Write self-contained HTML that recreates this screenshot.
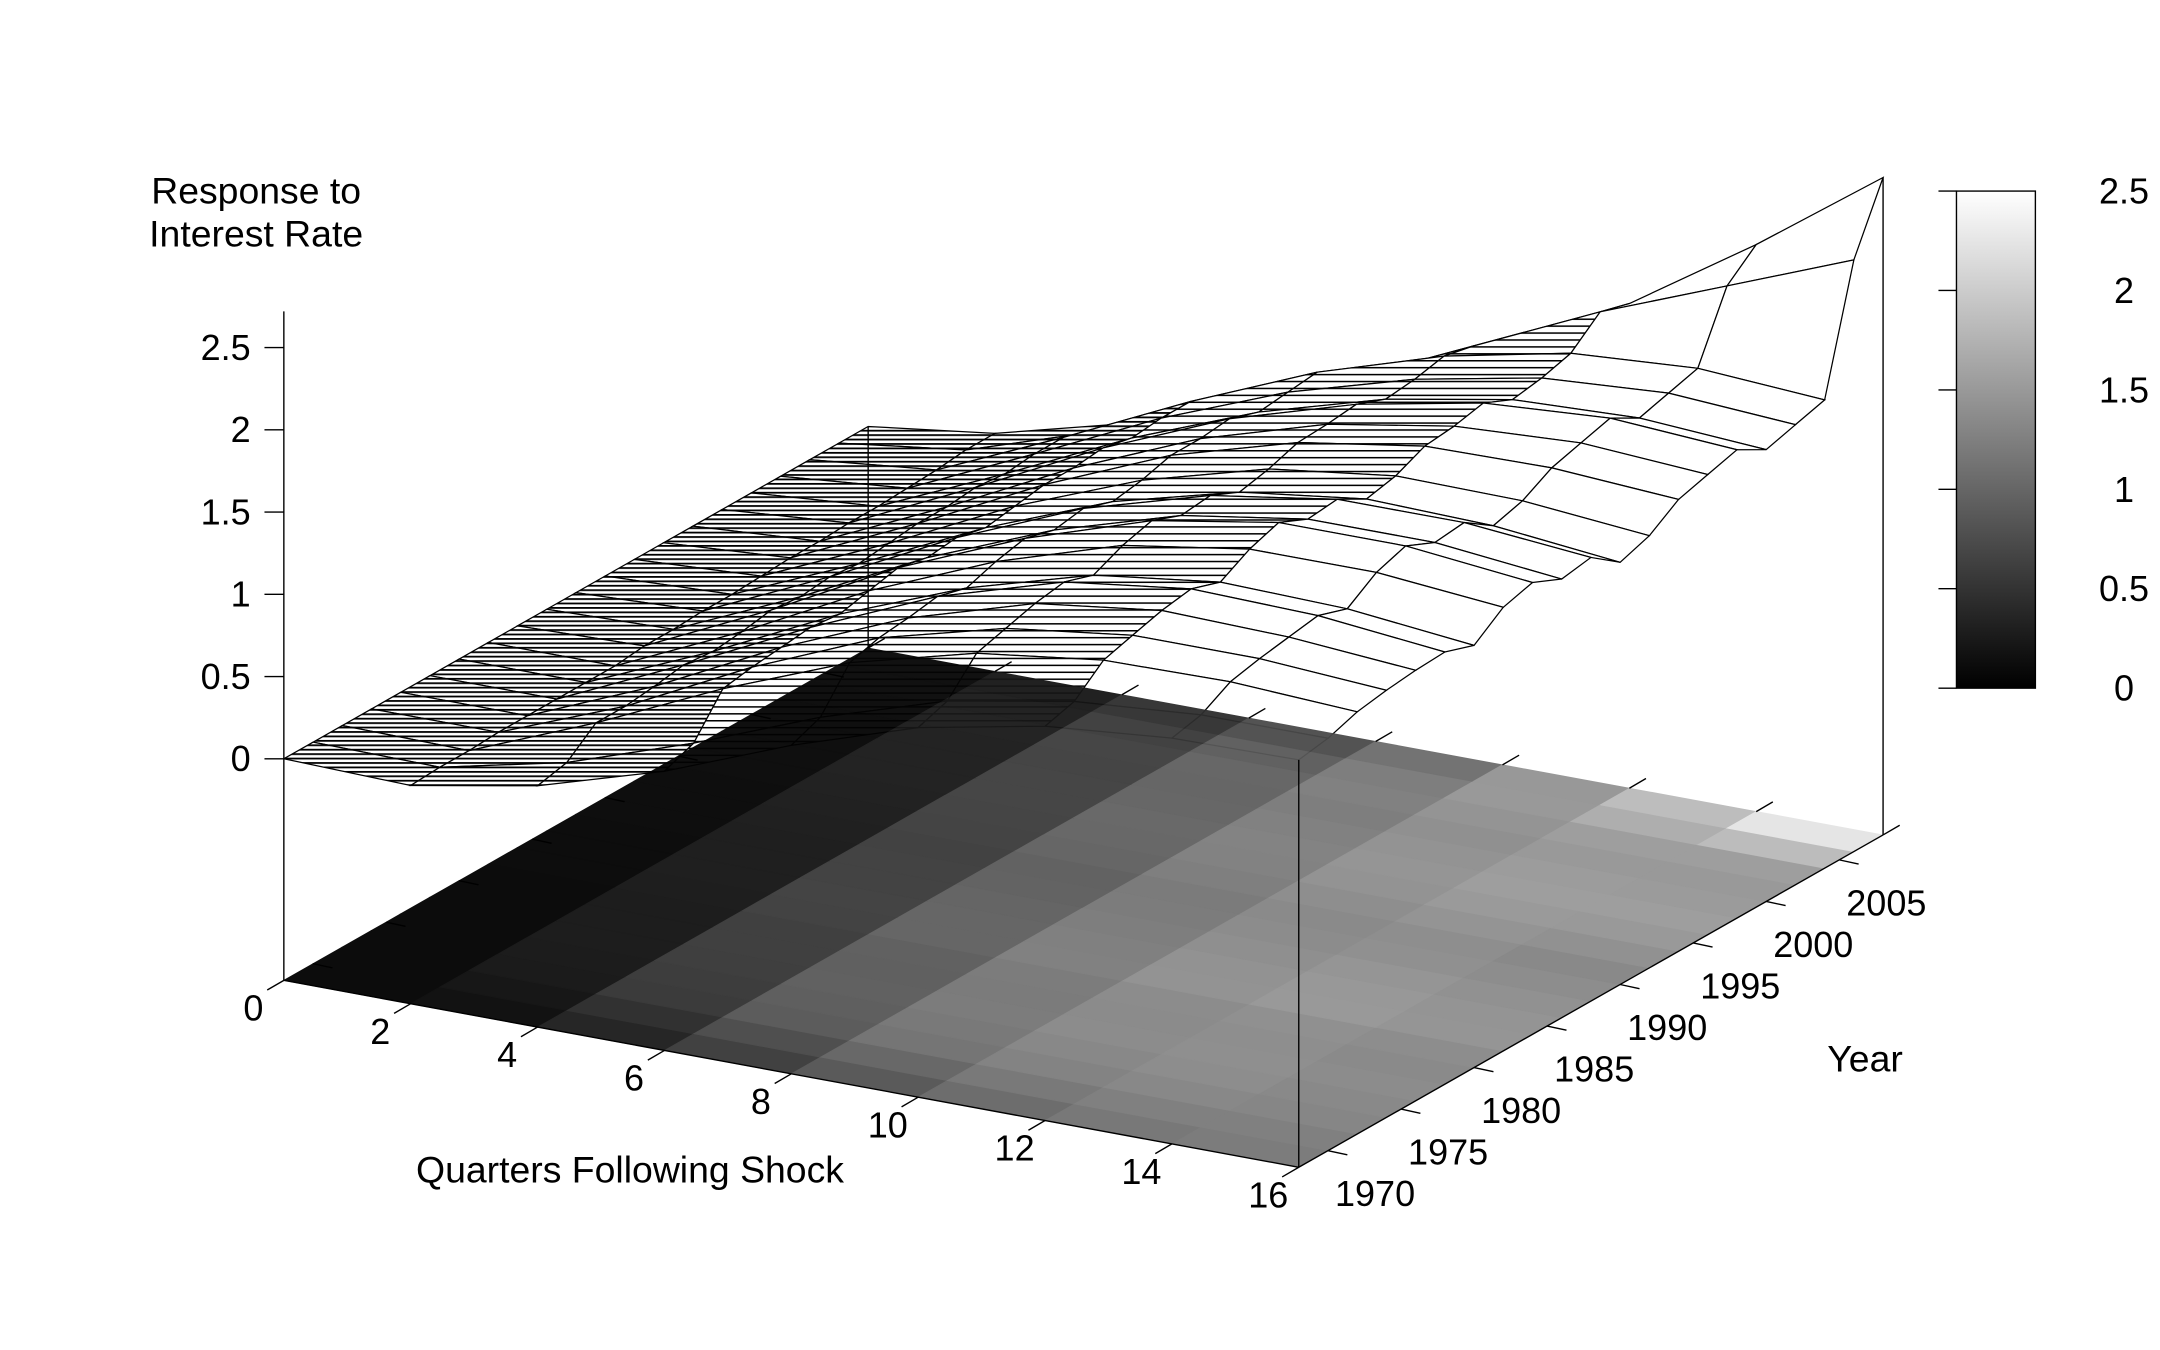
<!DOCTYPE html>
<html><head><meta charset="utf-8"><style>
html,body{margin:0;padding:0;background:#fff;}
svg{display:block;font-family:"Liberation Sans",sans-serif;}
</style></head><body>
<svg id="chart" width="2160" height="1350" viewBox="0 0 1560 975" xmlns="http://www.w3.org/2000/svg">
<defs>
<linearGradient id="cbar" x1="0" y1="1" x2="0" y2="0">
<stop offset="0" stop-color="#000"/><stop offset="1" stop-color="#fff"/></linearGradient>
<pattern id="hatch" width="6" height="3.2" patternUnits="userSpaceOnUse">
<rect width="6" height="3.2" fill="#fff"/><rect y="0" width="6" height="1.3" fill="#000"/></pattern>
<pattern id="hatch2" width="6" height="5" patternUnits="userSpaceOnUse">
<rect width="6" height="5" fill="#fff"/><rect y="0" width="6" height="1.1" fill="#000"/></pattern>
</defs>
<g id="surface"></g>
<g id="floor" opacity="0.95"></g>
<g id="box"></g>
<g id="axes"></g>
<g>
<rect x="1413" y="138" width="57" height="359" fill="url(#cbar)" stroke="#000" stroke-width="1"/>
<g id="cbticks"></g>
</g>
<text x="185" y="147" text-anchor="middle" font-size="27">Response to</text>
<text x="185" y="178" text-anchor="middle" font-size="27">Interest Rate</text>
<text x="455" y="854" text-anchor="middle" font-size="27">Quarters Following Shock</text>
<text x="1347" y="774" text-anchor="middle" font-size="27">Year</text>
</svg>
<script>
const quarters=[0,2,4,6,8,10,12,14,16];
const years=[1968,1970,1972,1974,1976,1978,1980,1982,1984,1986,1988,1990,1992,1994,1996,1998,2000,2002,2004,2006,2008];
const r1968=[0,-0.02,0.12,0.35,0.65,0.9,1.05,1.12,1.13];
const r1970=[0,-0.01,0.16,0.42,0.72,0.96,1.1,1.16,1.16];
const r1972=[0,-0.01,0.3,0.65,0.95,1.15,1.25,1.26,1.22];
const r1974=[0,0,0.3,0.68,1.0,1.2,1.3,1.3,1.25];
const r1976=[0,0,0.32,0.7,1.02,1.25,1.35,1.33,1.27];
const r1978=[0,0,0.35,0.72,1.05,1.28,1.38,1.36,1.28];
const r1980=[0,0,0.33,0.7,1.0,1.22,1.32,1.3,1.22];
const r1982=[0,0,0.35,0.74,1.06,1.3,1.42,1.42,1.35];
const r1984=[0,0.02,0.38,0.78,1.1,1.35,1.48,1.48,1.4];
const r1986=[0,0.02,0.36,0.74,1.05,1.28,1.4,1.4,1.32];
const r1988=[0,0.03,0.38,0.76,1.08,1.3,1.42,1.42,1.35];
const r1990=[0,0.03,0.36,0.72,1.02,1.22,1.32,1.3,1.22];
const r1992=[0,0.04,0.38,0.75,1.05,1.26,1.36,1.35,1.28];
const r1994=[0,0.05,0.4,0.78,1.1,1.32,1.44,1.45,1.4];
const r1996=[0,0.05,0.4,0.78,1.1,1.33,1.46,1.5,1.45];
const r1998=[0,0.06,0.42,0.8,1.12,1.35,1.5,1.55,1.5];
const r2000=[0,0.06,0.4,0.76,1.06,1.28,1.42,1.45,1.4];
const r2002=[0,0.07,0.42,0.78,1.08,1.3,1.45,1.5,1.45];
const r2004=[0,0.08,0.42,0.78,1.1,1.34,1.5,1.55,1.5];
const r2006=[0,0.1,0.35,0.65,0.95,1.3,1.65,1.95,2.25];
const r2008=[0,0.1,0.3,0.5,0.8,1.2,1.6,2.1,2.65];
const response=[r1968,r1970,r1972,r1974,r1976,r1978,r1980,r1982,r1984,r1986,r1988,r1990,r1992,r1994,r1996,r1998,r2000,r2002,r2004,r2006,r2008];
const zTicks=[0,0.5,1,1.5,2,2.5];
const qTicks=[0,2,4,6,8,10,12,14,16];
const yearTicks=[1970,1975,1980,1985,1990,1995,2000,2005];
const cbTicks=[0,0.5,1,1.5,2,2.5];

const NS="http://www.w3.org/2000/svg";
const Y0=1968,Y1=2008,QMAX=16,ZFLOOR=-1.347,ZMAX=2.5;
function P(q,yr,z){const a=q/QMAX,s=(yr-Y0)/(Y1-Y0);
 return [205+733*a+422*s, 548+135*a-240*s-118.8*z];}
function mk(tag,attrs,parent){const e=document.createElementNS(NS,tag);for(const k in attrs)e.setAttribute(k,attrs[k]);parent.appendChild(e);return e;}
function pts(arr){return arr.map(p=>p[0].toFixed(1)+","+p[1].toFixed(1)).join(" ");}
function gray(v){const g=Math.max(0,Math.min(255,Math.round(v/ZMAX*255)));return "rgb("+g+","+g+","+g+")";}
function line(a,b,parent,w,name){const l=mk('line',{x1:a[0],y1:a[1],x2:b[0],y2:b[1],stroke:'#000','stroke-width':w||1},parent);
 
 return l;}

const surf=document.getElementById('surface');
const quads=[];
for(let i=0;i<years.length-1;i++)for(let j=0;j<quarters.length-1;j++){
 const key=(1-(years[i]-Y0)/(Y1-Y0))+quarters[j]/QMAX;quads.push([key,i,j]);}
quads.sort((a,b)=>a[0]-b[0]);
quads.forEach(([k,i,j])=>{
 const fill=j<3?'url(#hatch)':(j<6?'url(#hatch2)':'#fff');
 const poly=mk('polygon',{points:pts([P(quarters[j],years[i],response[i][j]),P(quarters[j+1],years[i],response[i][j+1]),P(quarters[j+1],years[i+1],response[i+1][j+1]),P(quarters[j],years[i+1],response[i+1][j])]),fill:fill,stroke:'#000','stroke-width':0.9},surf);
 
 
});

const floor=document.getElementById('floor');
for(let i=0;i<years.length-1;i++)for(let j=0;j<quarters.length-1;j++){
 const v=(response[i][j]+response[i+1][j]+response[i][j+1]+response[i+1][j+1])/4;
 const poly=mk('polygon',{points:pts([P(quarters[j],years[i],ZFLOOR),P(quarters[j+1],years[i],ZFLOOR),P(quarters[j+1],years[i+1],ZFLOOR),P(quarters[j],years[i+1],ZFLOOR)]),fill:gray(v),stroke:gray(v),'stroke-width':0.6},floor);
 
 
}

const box=document.getElementById('box');
line(P(0,Y0,ZFLOOR),P(0,Y0,2.72),box,1,'z-axis-line');
line(P(16,Y0,ZFLOOR),P(16,Y0,1.13),box,1,'front-right-edge');
line(P(0,Y1,ZFLOOR),P(0,Y1,0),box,1,'back-left-edge');
line(P(16,Y1,ZFLOOR),P(16,Y1,2.65),box,1,'back-right-edge');

const axes=document.getElementById('axes');
line(P(0,Y0,ZFLOOR),P(16,Y0,ZFLOOR),axes,1,'x-axis-line');
line(P(16,Y0,ZFLOOR),P(16,Y1,ZFLOOR),axes,1,'y-axis-line');
zTicks.forEach(z=>{const p=P(0,Y0,z);
 line([p[0]-14,p[1]],p,axes,1,'z-tick');
 const t=mk('text',{x:p[0]-24,y:p[1]+9,'text-anchor':'end','font-size':26},axes);t.textContent=z;
 
 });
qTicks.forEach(q=>{const p=P(q,Y0,ZFLOOR);
 line(p,[p[0]-12,p[1]+7],axes,1,'x-tick');
 const b=P(q,Y1,ZFLOOR);line(b,[b[0]+12,b[1]-7],axes,1,'x-tick-back');
 const t=mk('text',{x:p[0]-22,y:p[1]+29,'text-anchor':'middle','font-size':26},axes);t.textContent=q;
 
 });
yearTicks.forEach(yr=>{const p=P(16,yr,ZFLOOR);
 line(p,[p[0]+14,p[1]+3],axes,1,'y-tick');
 const b=P(0,yr,ZFLOOR);line(b,[b[0]+14,b[1]+3],axes,1,'y-tick-left');
 const t=mk('text',{x:p[0]+34,y:p[1]+40,'text-anchor':'middle','font-size':26},axes);t.textContent=yr;
 
 });

const cb=document.getElementById('cbticks');
cbTicks.forEach(v=>{const y=497-v/2.5*359;
 line([1400,y],[1413,y],cb,1,'colorbar-tick');
 const t=mk('text',{x:1534,y:y+9,'text-anchor':'middle','font-size':26},cb);t.textContent=v;
 
 });
</script>
</body></html>
